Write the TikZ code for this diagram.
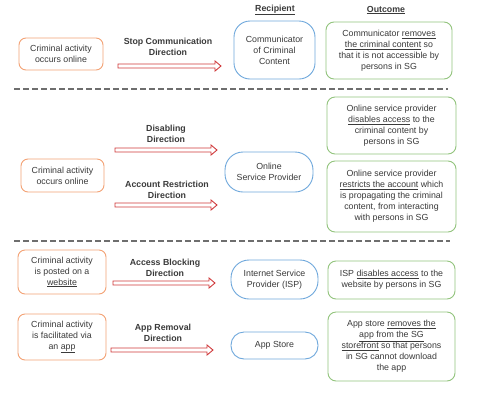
\documentclass[tikz,border=0pt]{standalone}
\usepackage{fontspec}
\setmainfont{Liberation Sans}
\usetikzlibrary{calc}
\definecolor{txt}{HTML}{3A3A3A}
\definecolor{orng}{HTML}{F3A275}
\definecolor{blu}{HTML}{6FA8DC}
\definecolor{grn}{HTML}{93C47D}
\definecolor{redar}{HTML}{D0393B}
\definecolor{dash}{HTML}{6E6E6E}
\newcommand\blockarrow[2]{%
  \draw[redarrow] ($(#1)+(0,-2)$) -- ($(#2)+(-6,-2)$) -- ($(#2)+(-6,-5)$) -- (#2)
    -- ($(#2)+(-6,5)$) -- ($(#2)+(-6,2)$) -- ($(#1)+(0,2)$) -- cycle;}
\tikzset{
  base/.style={draw, line width=0.9pt, align=center, text=txt, font=\fontsize{8.8}{11}\selectfont, inner sep=1pt},
  srcbox/.style={base, draw=orng, rounded corners=7pt},
  recbox/.style={base, draw=blu},
  outbox/.style={base, draw=grn, rounded corners=8pt},
  lbl/.style={align=center, text=txt, font=\fontsize{8.8}{10.8}\selectfont\bfseries},
  head/.style={text=txt, font=\fontsize{8.8}{10}\selectfont\bfseries},
  redarrow/.style={draw=redar, fill=white, line width=0.9pt, line join=miter},
  sep/.style={draw=dash, line width=1.8pt, dash pattern=on 6pt off 3pt},
}
\begin{document}
\begin{tikzpicture}[x=1pt,y=-1pt]
\useasboundingbox[fill=white] (0,0) rectangle (477,400);

% headers
\node[head] (hrec) at (275,10) {\underline{Recipient}};
\node[head] (hout) at (386,10) {\underline{Outcome}};

% section 1
\node[srcbox, minimum width=84pt, minimum height=32pt] (o1) at (61,54) {Criminal activity\\occurs online};
\node[lbl] (l1) at (168,47) {Stop Communication\\Direction};
\coordinate (a1s) at (118,66); \coordinate (a1e) at (221,66);
\blockarrow{a1s}{a1e}
\node[recbox, rounded corners=16pt, minimum width=81pt, minimum height=58pt] (b1) at (274.5,50) {Communicator\\of Criminal\\Content};
\node[outbox, minimum width=126pt, minimum height=57pt] (g1) at (389,50.5) {Communicator \underline{removes}\\\underline{the criminal content} so\\that it is not accessible by\\persons in SG};

\coordinate (d1s) at (14,89); \coordinate (d1e) at (448,89);
\draw[sep] (d1s) -- (d1e);

% section 2
\node[srcbox, minimum width=83pt, minimum height=33pt] (o2) at (62.5,175.5) {Criminal activity\\occurs online};
\node[lbl] (l2) at (166,133.5) {Disabling\\Direction};
\coordinate (a2s) at (115,150); \coordinate (a2e) at (217,150);
\blockarrow{a2s}{a2e}
\node[lbl] (l3) at (167,189.5) {Account Restriction\\Direction};
\coordinate (a3s) at (115,205); \coordinate (a3e) at (217,205);
\blockarrow{a3s}{a3e}
\node[recbox, rounded corners=18pt, minimum width=88pt, minimum height=40pt] (b2) at (269,172) {Online\\Service Provider};
\node[outbox, minimum width=129pt, minimum height=57pt] (g2) at (391.5,125.5) {Online service provider\\\underline{disables access} to the\\criminal content by\\persons in SG};
\node[outbox, minimum width=129pt, minimum height=71pt] (g3) at (391.5,196.5) {Online service provider\\\underline{restricts the account} which\\is propagating the criminal\\content, from interacting\\with persons in SG};

\coordinate (d2s) at (14,241); \coordinate (d2e) at (450,241);
\draw[sep] (d2s) -- (d2e);

% section 3
\node[srcbox, minimum width=88pt, minimum height=44pt] (o3) at (62,272) {Criminal activity\\is posted on a\\\underline{website}};
\node[lbl] (l4) at (165,267.5) {Access Blocking\\Direction};
\coordinate (a4s) at (113,283); \coordinate (a4e) at (215,283);
\blockarrow{a4s}{a4e}
\node[recbox, rounded corners=18pt, minimum width=87pt, minimum height=39pt] (b3) at (274.5,279.5) {Internet Service\\Provider (ISP)};
\node[outbox, minimum width=127pt, minimum height=38pt] (g4) at (391.5,280) {ISP \underline{disables access} to the\\website by persons in SG};

% section 4
\node[srcbox, minimum width=88pt, minimum height=46pt] (o4) at (62,337) {Criminal activity\\is facilitated via\\an \underline{app}};
\node[lbl] (l5) at (163,332.5) {App Removal\\Direction};
\coordinate (a5s) at (111,350); \coordinate (a5e) at (213,350);
\blockarrow{a5s}{a5e}
\node[recbox, rounded corners=13pt, minimum width=87pt, minimum height=27pt] (b4) at (274.5,345.5) {App Store};
\node[outbox, minimum width=127pt, minimum height=69pt] (g5) at (391.5,346.5) {App store \underline{removes the}\\\underline{app from the SG}\\\underline{storefront} so that persons\\in SG cannot download\\the app};
\end{tikzpicture}
\end{document}
